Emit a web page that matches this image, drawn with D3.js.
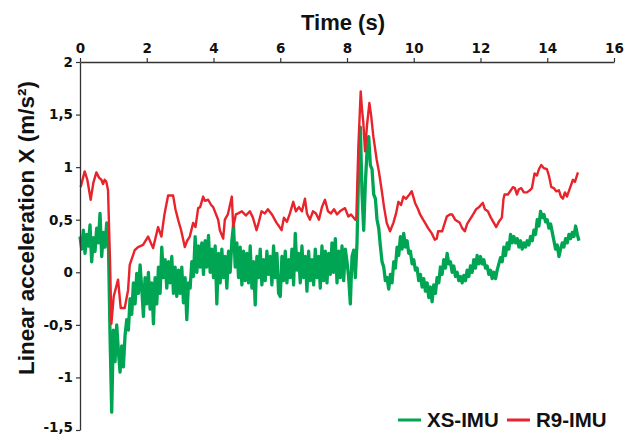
<!DOCTYPE html>
<html>
<head>
<meta charset="utf-8">
<script src="https://cdn.jsdelivr.net/npm/d3@7"></script>
<style>
  body { margin: 0; background: #fff; }
  text { font-family: "Liberation Sans", Arial, sans-serif; font-weight: bold; fill: #111; }
</style>
</head>
<body>
<script>
// R9-IMU readings (time in s, acceleration in m/s²)
const redTime = [0.02, 0.14, 0.22, 0.32, 0.40, 0.49, 0.57, 0.64, 0.69, 0.74, 0.79, 0.84, 0.90, 0.94, 1.01, 1.14, 1.22, 1.34, 1.44, 1.49,
  1.64, 1.74, 1.89, 2.04, 2.19, 2.34, 2.44, 2.53, 2.64, 2.79, 2.86, 2.94, 3.03, 3.14, 3.21, 3.29, 3.39, 3.46, 3.54, 3.60,
  3.69, 3.74, 3.84, 3.93, 3.99, 4.14, 4.19, 4.29, 4.34, 4.43, 4.55, 4.59, 4.67, 4.74, 4.85, 4.97, 5.09, 5.18, 5.29, 5.36,
  5.44, 5.54, 5.63, 5.75, 5.89, 5.96, 6.04, 6.11, 6.20, 6.29, 6.39, 6.47, 6.56, 6.65, 6.74, 6.80, 6.89, 6.98, 7.07, 7.16,
  7.25, 7.34, 7.43, 7.52, 7.61, 7.70, 7.79, 7.88, 7.94, 8.04, 8.12, 8.25, 8.28, 8.34, 8.41, 8.45, 8.49, 8.54, 8.60, 8.67,
  8.72, 8.79, 8.89, 8.96, 9.04, 9.11, 9.19, 9.29, 9.39, 9.47, 9.54, 9.62, 9.69, 9.77, 9.87, 9.94, 10.04, 10.13, 10.19, 10.28,
  10.34, 10.43, 10.54, 10.63, 10.69, 10.73, 10.85, 10.99, 11.08, 11.15, 11.24, 11.38, 11.45, 11.53, 11.60, 11.68, 11.78, 11.87, 11.96, 12.01,
  12.07, 12.13, 12.22, 12.31, 12.40, 12.47, 12.55, 12.64, 12.69, 12.72, 12.82, 12.91, 12.97, 13.03, 13.09, 13.15, 13.22, 13.30, 13.39, 13.48,
  13.54, 13.62, 13.69, 13.75, 13.82, 13.90, 13.99, 14.05, 14.12, 14.20, 14.27, 14.35, 14.41, 14.47, 14.53, 14.59, 14.68, 14.77, 14.83, 14.92];
const redAccel = [0.81, 0.96, 0.88, 0.69, 0.85, 0.95, 0.90, 0.88, 0.84, 0.88, 0.86, 0.78, 0.10, -0.49, -0.23, -0.07, -0.34, -0.34, -0.17, 0.07,
  0.21, 0.24, 0.26, 0.34, 0.23, 0.43, 0.34, 0.55, 0.73, 0.73, 0.60, 0.50, 0.40, 0.24, 0.30, 0.34, 0.47, 0.43, 0.61, 0.62,
  0.72, 0.68, 0.69, 0.64, 0.62, 0.50, 0.40, 0.32, 0.50, 0.55, 0.72, 0.43, 0.55, 0.56, 0.58, 0.54, 0.58, 0.52, 0.40, 0.48,
  0.58, 0.56, 0.60, 0.55, 0.47, 0.44, 0.40, 0.52, 0.48, 0.56, 0.67, 0.58, 0.62, 0.58, 0.70, 0.56, 0.50, 0.58, 0.56, 0.50,
  0.62, 0.69, 0.58, 0.56, 0.60, 0.55, 0.58, 0.60, 0.61, 0.53, 0.55, 0.50, 0.52, 1.19, 1.72, 1.55, 1.42, 1.15, 1.40, 1.61,
  1.50, 1.29, 1.07, 0.95, 0.78, 0.62, 0.47, 0.39, 0.47, 0.56, 0.67, 0.64, 0.72, 0.70, 0.74, 0.77, 0.66, 0.60, 0.55, 0.50,
  0.47, 0.42, 0.37, 0.31, 0.32, 0.39, 0.39, 0.53, 0.55, 0.55, 0.50, 0.47, 0.42, 0.39, 0.46, 0.50, 0.55, 0.60, 0.62, 0.64,
  0.66, 0.60, 0.58, 0.52, 0.47, 0.43, 0.48, 0.52, 0.70, 0.74, 0.74, 0.78, 0.81, 0.80, 0.74, 0.79, 0.80, 0.76, 0.76, 0.78,
  0.80, 0.94, 0.92, 0.98, 1.02, 0.99, 0.98, 0.92, 0.81, 0.80, 0.77, 0.78, 0.72, 0.70, 0.76, 0.72, 0.80, 0.88, 0.86, 0.95];

// XS-IMU readings, one every 0.05 s (one row per second)
const greenStep = 0.05;
const greenAccel = [
  0.34, 0.22, 0.40, 0.18, 0.36, 0.25, 0.45, 0.10, 0.33, 0.20, 0.42, 0.28, 0.56, 0.15, 0.38, 0.24, 0.47, 0.30, -0.60, -1.33,
  -0.55, -0.85, -0.50, -0.75, -0.95, -0.70, -0.90, -0.60, -0.45, -0.55, -0.25, -0.40, -0.10, -0.30, -0.01, -0.20, 0.07, -0.15, -0.42, -0.05,
  -0.30, 0.00, -0.35, -0.10, -0.49, -0.05, -0.30, 0.05, -0.20, 0.24, -0.05, 0.12, -0.15, 0.10, -0.10, 0.15, -0.20, 0.05, -0.23, 0.02,
  -0.20, 0.05, -0.29, -0.05, -0.45, -0.10, -0.15, 0.10, -0.04, 0.34, 0.00, 0.25, 0.05, 0.28, -0.02, 0.30, 0.05, 0.35, 0.00, 0.22,
  -0.05, 0.25, -0.30, 0.18, -0.10, 0.22, -0.05, 0.15, -0.15, 0.20, 0.00, 0.30, 0.45, 0.05, 0.28, -0.05, 0.24, -0.12, 0.20, -0.08,
  0.18, -0.10, 0.25, -0.15, 0.10, -0.31, 0.15, -0.05, 0.22, -0.12, 0.12, -0.08, 0.20, -0.02, 0.15, -0.12, 0.25, -0.05, 0.18, -0.20,
  -0.23, 0.15, -0.08, 0.20, -0.10, 0.12, -0.05, 0.22, -0.12, 0.37, 0.02, 0.18, -0.10, 0.25, -0.05, 0.15, -0.18, 0.20, -0.08, 0.12,
  -0.12, 0.22, -0.05, 0.15, -0.15, 0.25, -0.08, 0.20, -0.10, 0.18, -0.02, 0.28, 0.00, 0.32, -0.10, 0.20, -0.05, 0.25, -0.08, 0.22,
  0.10, -0.05, -0.30, 0.15, 0.21, -0.05, 0.28, 1.00, 1.38, 0.75, 0.40, 0.85, 1.15, 1.29, 1.02, 0.98, 0.74, 0.70, 0.50, 0.42,
  0.25, 0.10, 0.05, -0.08, -0.05, -0.16, -0.02, -0.10, 0.10, 0.04, 0.24, 0.16, 0.34, 0.22, 0.37, 0.24, 0.30, 0.18, 0.20, 0.08,
  0.12, 0.02, 0.04, -0.08, -0.02, -0.14, -0.06, -0.18, -0.10, -0.24, -0.14, -0.28, -0.12, -0.20, -0.05, -0.10, 0.05, -0.02, 0.12, 0.04,
  0.18, 0.08, 0.10, 0.00, 0.06, -0.04, 0.00, -0.08, -0.04, -0.10, -0.03, -0.08, 0.02, -0.04, 0.06, 0.00, 0.12, 0.04, 0.16, 0.08,
  0.15, 0.08, 0.12, 0.04, 0.06, -0.02, 0.02, -0.06, 0.00, -0.06, 0.02, 0.08, 0.14, 0.10, 0.24, 0.16, 0.28, 0.22, 0.36, 0.28,
  0.34, 0.28, 0.32, 0.24, 0.30, 0.22, 0.28, 0.24, 0.30, 0.26, 0.34, 0.30, 0.40, 0.36, 0.50, 0.44, 0.58, 0.52, 0.55, 0.48,
  0.50, 0.42, 0.46, 0.38, 0.30, 0.22, 0.26, 0.15, 0.22, 0.28, 0.24, 0.32, 0.28, 0.36, 0.32, 0.38, 0.34, 0.44, 0.36, 0.30];

const xTicks = [0, 2, 4, 6, 8, 10, 12, 14, 16];
const yTicks = [-1.5, -1, -0.5, 0, 0.5, 1, 1.5, 2];
const seriesNames = ["XS-IMU", "R9-IMU"];
const seriesColors = ["#00a553", "#e8232b"];

const width = 638, height = 436;
const margin = { top: 62, right: 24, bottom: 6, left: 80 };

const svg = d3.select("body")
  .append("svg")
  .attr("width", width)
  .attr("height", height);

const x = d3.scaleLinear().domain([0, 16]).range([margin.left, width - margin.right]);
const y = d3.scaleLinear().domain([-1.5, 2]).range([height - margin.bottom, margin.top]);

// comma decimals, plain hyphen minus
const fmt = d3.formatLocale({ decimal: ",", thousands: ".", grouping: [3], currency: ["", ""], minus: "-" }).format("~g");

const line = d3.line()
  .x(d => x(d[0]))
  .y(d => y(d[1]));

const greenData = greenAccel.map((v, i) => [i * greenStep, v]);
const redData = redTime.map((t, i) => [t, redAccel[i]]);

svg.append("path")
  .datum(greenData)
  .attr("fill", "none")
  .attr("stroke", seriesColors[0])
  .attr("stroke-width", 3.3)
  .attr("stroke-linejoin", "round")
  .attr("d", line);

svg.append("path")
  .datum(redData)
  .attr("fill", "none")
  .attr("stroke", seriesColors[1])
  .attr("stroke-width", 2.4)
  .attr("stroke-linejoin", "round")
  .attr("d", line);

// axes
const xAxis = svg.append("g")
  .attr("transform", `translate(0,${y(2)})`)
  .call(d3.axisTop(x).tickValues(xTicks).tickFormat(fmt).tickSize(4).tickSizeOuter(0).tickPadding(5));

const yAxis = svg.append("g")
  .attr("transform", `translate(${x(0)},0)`)
  .call(d3.axisLeft(y).tickValues(yTicks).tickFormat(fmt).tickSize(4).tickSizeOuter(0).tickPadding(3));

[xAxis, yAxis].forEach(g => {
  g.select(".domain").attr("stroke", "#333").attr("stroke-width", 1.3);
  g.selectAll(".tick line").attr("stroke", "#333").attr("stroke-width", 1.2);
  g.selectAll(".tick text")
    .style("font-size", "13.5px")
    .style("font-family", "'DejaVu Sans', Verdana, sans-serif")
    .style("font-weight", "bold")
    .attr("fill", "#111");
});

// bottom label sits on the page edge, lift it a little so it stays whole
yAxis.selectAll(".tick text")
  .filter(d => d === -1.5)
  .attr("dy", "0.1em");

// titles
svg.append("text")
  .attr("x", (x(0) + x(16)) / 2 - 4)
  .attr("y", 30)
  .attr("text-anchor", "middle")
  .style("font-size", "22px")
  .text("Time (s)");

svg.append("text")
  .attr("transform", "translate(34,228) rotate(-90)")
  .attr("text-anchor", "middle")
  .style("font-size", "22.5px")
  .text("Linear acceleration X (m/s²)");

// legend
const legendX = [398, 507];
const legend = svg.append("g");
seriesNames.forEach((name, i) => {
  legend.append("line")
    .attr("x1", legendX[i]).attr("x2", legendX[i] + 23)
    .attr("y1", 420).attr("y2", 420)
    .attr("stroke", seriesColors[i])
    .attr("stroke-width", 3);
  legend.append("text")
    .attr("x", legendX[i] + 29)
    .attr("y", 427)
    .style("font-size", "20.5px")
    .text(name);
});
</script>
</body>
</html>
